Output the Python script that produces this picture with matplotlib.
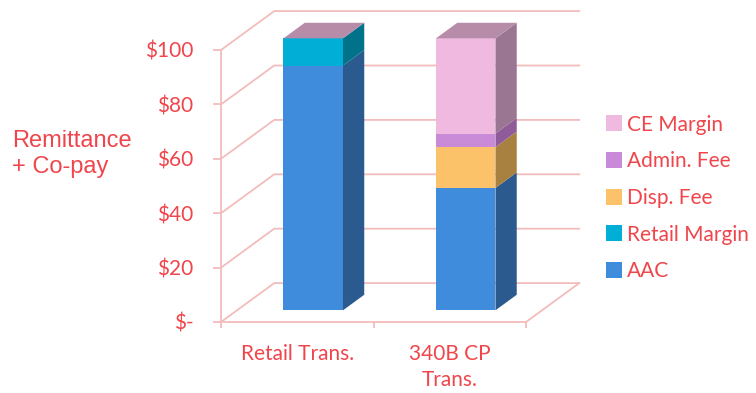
import matplotlib.pyplot as plt
from matplotlib.patches import Polygon, Patch

# data
categories = ['Retail Trans.', '340B CP\nTrans.']
series = ['AAC', 'Retail Margin', 'Disp. Fee', 'Admin. Fee', 'CE Margin']
values = {
    'AAC': [90, 45],
    'Retail Margin': [10, 0],
    'Disp. Fee': [0, 15],
    'Admin. Fee': [0, 5],
    'CE Margin': [0, 35],
}
yticks = [0, 20, 40, 60, 80, 100]
yticklabels = ['$-', '$20', '$40', '$60', '$80', '$100']

front_colors = {'AAC': '#3F8CDD', 'Retail Margin': '#00AED6', 'Disp. Fee': '#FCC26A',
                'Admin. Fee': '#C98AD8', 'CE Margin': '#F0BAE0'}
side_colors = {'AAC': '#2B5B8E', 'Retail Margin': '#00738A', 'Disp. Fee': '#A88140',
               'Admin. Fee': '#8F5B98', 'CE Margin': '#9B7693'}
top_color = '#B68CA9'
txt = '#F0454B'
grid = '#F3BCBC'

# oblique projection of the depth axis (data units)
DX, DY = 0.349, 14.3
d0, d1 = 0.3, 0.7
W = 0.39

fig = plt.figure(figsize=(7.56, 3.93), dpi=100)
ax = fig.add_axes([221 / 756, 71 / 393, 305 / 756, 272 / 393])
ax.set_xlim(0, 2)
ax.set_ylim(0, 100)

# walls / gridlines
for v in yticks:
    ax.plot([0, DX, 2 + DX], [v, v + DY, v + DY], color=grid, lw=1.3, zorder=1, clip_on=False)
ax.plot([2, 2 + DX], [0, DY], color=grid, lw=1.3, zorder=1, clip_on=False)

# bars
for i, cat in enumerate(categories):
    xc = i + 0.5
    bottom = 0
    for s in series:
        h = values[s][i]
        if h == 0:
            continue
        x0 = xc - W / 2 + d0 * DX
        y0 = bottom + d0 * DY
        ax.bar(x0, h, width=W, bottom=y0, align='edge', color=front_colors[s],
               zorder=3, clip_on=False)
        xr = x0 + W
        side = Polygon([(xr, y0), (xr + (d1 - d0) * DX, bottom + d1 * DY),
                        (xr + (d1 - d0) * DX, bottom + h + d1 * DY), (xr, y0 + h)],
                       closed=True, facecolor=side_colors[s], edgecolor='none',
                       zorder=3, clip_on=False)
        ax.add_patch(side)
        bottom += h
    top = Polygon([(x0, bottom + d0 * DY), (x0 + W, bottom + d0 * DY),
                   (x0 + W + (d1 - d0) * DX, bottom + d1 * DY),
                   (x0 + (d1 - d0) * DX, bottom + d1 * DY)],
                  closed=True, facecolor=top_color, edgecolor='none', zorder=3, clip_on=False)
    ax.add_patch(top)

# axes styling
for sp in ['top', 'right']:
    ax.spines[sp].set_visible(False)
for sp in ['left', 'bottom']:
    ax.spines[sp].set_color(grid)
    ax.spines[sp].set_linewidth(1.3)
ax.set_facecolor('none')

ax.set_yticks(yticks)
ax.set_yticklabels(yticklabels, fontsize=15, color=txt, family='Lato')
ax.tick_params(axis='y', length=6, width=1.3, color=grid, pad=14)

ax.set_xticks([0.5, 1.5])
ax.set_xticklabels(categories, fontsize=15, color=txt, family='Lato', linespacing=1.35)
ax.set_xticks([0, 1, 2], minor=True)
ax.tick_params(axis='x', which='major', length=0, pad=16)
ax.tick_params(axis='x', which='minor', length=4, width=1.3, color=grid)

fig.text(12 / 756, 1 - 154 / 393, 'Remittance\n+ Co-pay', fontsize=17, color=txt,
         family='Liberation Sans', va='center', ha='left', linespacing=1.28)

handles = [Patch(facecolor=front_colors[s], edgecolor='none', label=s) for s in reversed(series)]
leg = fig.legend(handles=handles, loc='center left', bbox_to_anchor=(587 / 756, 1 - 198 / 393),
                 frameon=False, handlelength=0.8, handleheight=0.8, handletextpad=0.2,
                 labelspacing=0.8, prop={'family': 'Lato', 'size': 15})
for t in leg.get_texts():
    t.set_color(txt)

fig.savefig('out.png', dpi=100)
